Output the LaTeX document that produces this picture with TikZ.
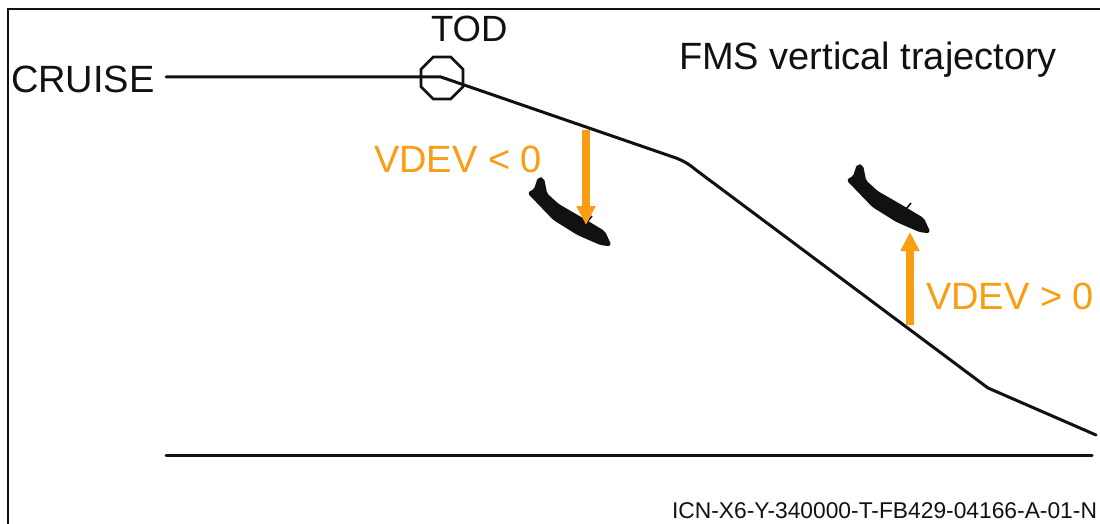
\documentclass[tikz,border=0pt]{standalone}
\usepackage{fontspec}
\setmainfont{Liberation Sans}
\usetikzlibrary{shapes.geometric,arrows.meta}
\definecolor{vdevorange}{HTML}{F99D12}
\definecolor{inkblack}{HTML}{111111}
\newcommand{\planeshape}{%
  \filldraw[inkblack,line width=2.4pt,line join=round,rounded corners=2pt] (858,165) -- (862,166) -- (865,181) -- (877,192) -- (903,207) -- (923,219) -- (929,232) -- (920,231) -- (897,221) -- (873,206) -- (848,180) -- (854,177) -- cycle;
  \draw[inkblack,line width=1.6pt] (906,209) -- (911,203);
}
\tikzset{
  x=1pt,y=-1pt,
  lbl/.style={inner sep=0pt,outer sep=0pt,text=#1,font=\fontsize{38}{40}\selectfont},
  lbl/.default=inkblack,
  path line/.style={draw=inkblack,line width=3pt,line cap=round,line join=round},
  frame line/.style={draw=inkblack,line width=2.4pt},
  vdev arrow/.style={draw=vdevorange,line width=8pt,-{Triangle[width=18pt,length=19pt]}},
  waypoint/.style={regular polygon,regular polygon sides=8,shape border rotate=0,draw=inkblack,line width=2.6pt,minimum size=45.5pt,inner sep=0pt,fill=none}
}
\begin{document}
\begin{tikzpicture}
\useasboundingbox (0,0) rectangle (1100,524);
\fill[white] (0,0) rectangle (1100,524);
% frame
\coordinate (fbl) at (8,524);
\coordinate (ftl) at (8,9);
\coordinate (ftr) at (1100,9);
\draw[frame line] (fbl) -- (ftl) -- (ftr);
% trajectory
\coordinate (cruisestart) at (166,77);
\coordinate (todpt) at (441,77);
\coordinate (bendA) at (676,158);
\coordinate (bendB) at (696,170);
\coordinate (bendC) at (988,388);
\coordinate (trajend) at (1096,435);
\coordinate (groundL) at (166,455);
\coordinate (groundR) at (1092,455);
\draw[path line] (cruisestart) -- (todpt) -- (bendA) .. controls (686,162) and (690,165) .. (bendB) -- (bendC) -- (trajend);
\draw[path line] (groundL) -- (groundR);
\node[waypoint] (tod) at (442,78) {};
% aircraft
\planeshape
\begin{scope}[shift={(-319,13)}]
\planeshape
\end{scope}
% arrows
\coordinate (a1s) at (586,130);
\coordinate (a1e) at (586,225);
\coordinate (a2s) at (910,325);
\coordinate (a2e) at (910,232);
\draw[vdev arrow] (a1s) -- (a1e);
\draw[vdev arrow] (a2s) -- (a2e);
% text
\node[lbl,anchor=base west] (cruise) at (11,93) {CRUISE};
\node[lbl,anchor=base west,font=\fontsize{36.5}{40}\selectfont] (todlabel) at (431,42) {TOD};
\node[lbl,anchor=base west] (title) at (679,70) {FMS vertical trajectory};
\node[lbl=vdevorange,anchor=base west] (vneg) at (374,172) {VDEV < 0};
\node[lbl=vdevorange,anchor=base west] (vpos) at (926,309) {VDEV > 0};
\node[lbl,anchor=base east,font=\fontsize{22.8}{24}\selectfont] (icn) at (1097,518) {ICN-X6-Y-340000-T-FB429-04166-A-01-N};
\end{tikzpicture}
\end{document}
